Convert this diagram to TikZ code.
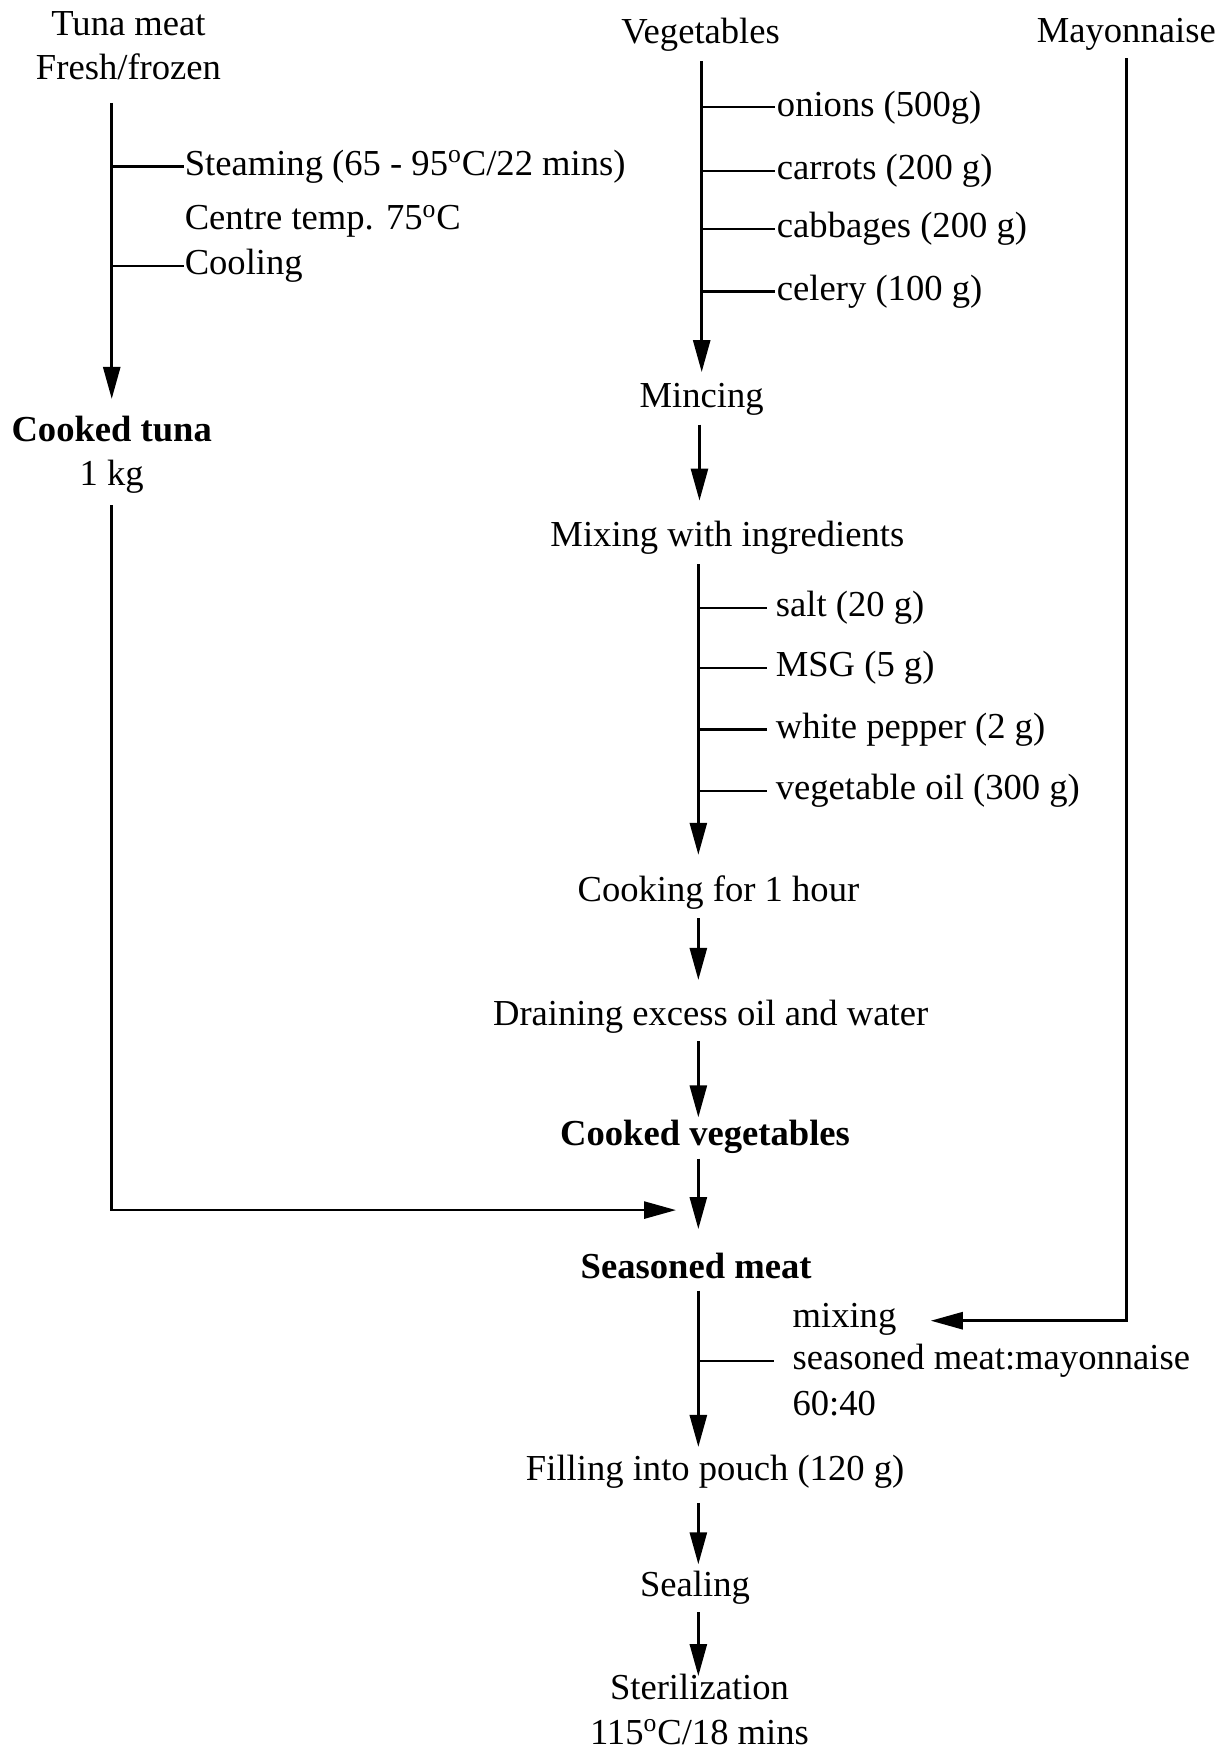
\documentclass[tikz,border=0pt]{standalone}
\usepackage{fontspec}
\setmainfont{Liberation Serif}
\usetikzlibrary{arrows.meta}
\begin{document}
\begin{tikzpicture}[x=0.5586pt,y=-0.5586pt,
  every node/.style={inner sep=0pt, font=\fontsize{18.3}{22.3}\selectfont, align=center},
  flow/.style={line width=1.35pt, -{Triangle[length=16pt,width=8.5pt]}},
  branch/.style={line width=1.2pt},
  lbl/.style={anchor=west, align=left}]
\useasboundingbox (0,0) rectangle (1101,1568);

% ---- Tuna column
\node (tuna) at (115,41) {Tuna meat\\Fresh/frozen};
\coordinate (t0) at (100,92);
\coordinate (t1) at (100,357);
\draw[flow] (t0) -- (t1);
\node[lbl] (steam) at (165,149) {Steaming (65 - 95\textsuperscript{o}C/22 mins)};
\node[lbl] (centre) at (165,198) {Centre temp. 75\textsuperscript{o}C};
\node[lbl] (cool) at (165,238) {Cooling};
\draw[branch] (steam.west -| t0) -- (steam.west);
\draw[branch] (cool.west -| t0) -- (cool.west);
\node (ctuna) at (100,407) {\textbf{Cooked tuna}\\1 kg};
\coordinate (c0) at (100,452);
\coordinate (c1) at (100,1083);
\coordinate (c2) at (605,1083);
\draw[flow] (c0) -- (c1) -- (c2);

% ---- Vegetables column
\node (veg) at (627,31) {Vegetables};
\coordinate (v0) at (628,55);
\coordinate (v1) at (628,333);
\draw[flow] (v0) -- (v1);
\node[lbl] (onion) at (695,96) {onions (500g)};
\node[lbl] (carrot) at (695,153) {carrots (200 g)};
\node[lbl] (cabb) at (695,205) {cabbages (200 g)};
\node[lbl] (celery) at (695,261) {celery (100 g)};
\foreach \n in {onion,carrot,cabb,celery}
  \draw[branch] (\n.west -| v0) -- ([xshift=-1pt]\n.west);

\node (minc) at (628,357) {Mincing};
\coordinate (m0) at (626,380);
\coordinate (m1) at (626,448);
\draw[flow] (m0) -- (m1);
\node (mix) at (651,481) {Mixing with ingredients};
\coordinate (x0) at (625,505);
\coordinate (x1) at (625,765);
\draw[flow] (x0) -- (x1);
\node[lbl] (salt) at (694,544) {salt (20 g)};
\node[lbl] (msg) at (694,598) {MSG (5 g)};
\node[lbl] (pep) at (694,653) {white pepper (2 g)};
\node[lbl] (oil) at (694,708) {vegetable oil (300 g)};
\foreach \n in {salt,msg,pep,oil}
  \draw[branch] (\n.west -| x0) -- ([xshift=-4pt]\n.west);

\node (cook) at (643,799) {Cooking for 1 hour};
\coordinate (k0) at (625,822);
\coordinate (k1) at (625,877);
\draw[flow] (k0) -- (k1);
\node (drain) at (636,910) {Draining excess oil and water};
\coordinate (d0) at (625,932);
\coordinate (d1) at (625,1000);
\draw[flow] (d0) -- (d1);
\node (cveg) at (631,1017) {\textbf{Cooked vegetables}};
\coordinate (g0) at (625,1037);
\coordinate (g1) at (625,1100);
\draw[flow] (g0) -- (g1);
\node (seas) at (623,1133) {\textbf{Seasoned meat}};
\coordinate (s0) at (625,1155);
\coordinate (s1) at (625,1295);
\draw[flow] (s0) -- (s1);
\node[lbl] (mixing) at (709,1181) {mixing};
\node[lbl] (ratio) at (709,1218) {seasoned meat:mayonnaise};
\node[lbl] (sixty) at (709,1256) {60:40};
\draw[branch] (ratio.west -| s0) -- ([xshift=-9pt]ratio.west);

% ---- Mayonnaise column
\node (mayo) at (1008,31) {Mayonnaise};
\coordinate (y0) at (1008,52);
\coordinate (y1) at (1008,1182);
\coordinate (y2) at (833,1182);
\draw[flow] (y0) -- (y1) -- (y2);

% ---- Final steps
\node (fill) at (640,1317) {Filling into pouch (120 g)};
\coordinate (f0) at (625,1345);
\coordinate (f1) at (625,1400);
\draw[flow] (f0) -- (f1);
\node (seal) at (622,1421) {Sealing};
\coordinate (e0) at (625,1443);
\coordinate (e1) at (625,1500);
\draw[flow] (e0) -- (e1);
\node (ster) at (626,1530) {Sterilization\\115\textsuperscript{o}C/18 mins};
\end{tikzpicture}
\end{document}
